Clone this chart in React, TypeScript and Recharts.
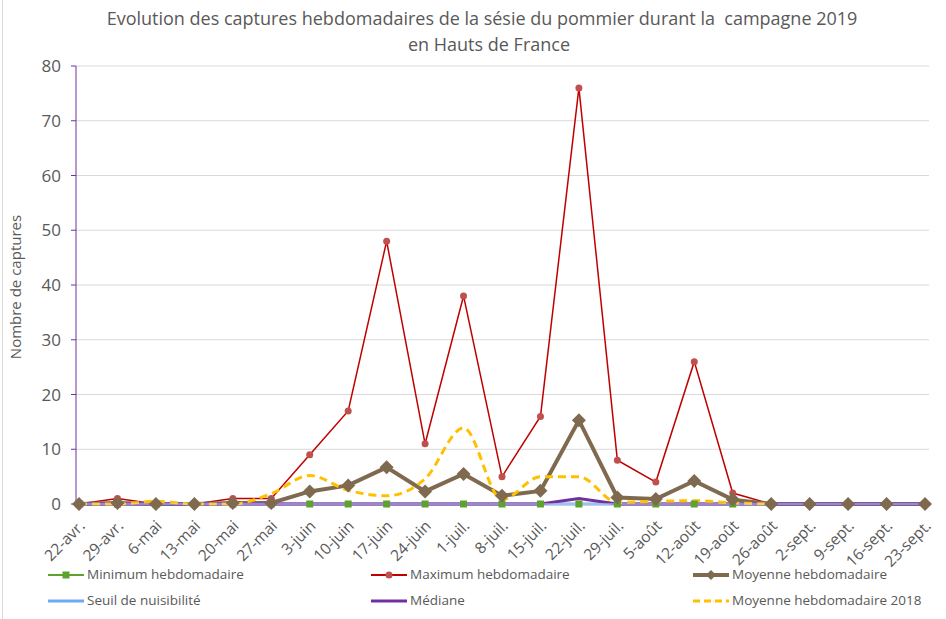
import React from 'react';
import { LineChart, Line, XAxis, YAxis, CartesianGrid } from 'recharts';

const categories = [
  '22-avr.', '29-avr.', '6-mai', '13-mai', '20-mai', '27-mai', '3-juin', '10-juin',
  '17-juin', '24-juin', '1-juil.', '8-juil.', '15-juil.', '22-juil.', '29-juil.',
  '5-août', '12-août', '19-août', '26-août', '2-sept.', '9-sept.', '16-sept.', '23-sept.',
];

const minimum = [0, 0, 0, 0, 0, 0, 0, 0, 0, 0, 0, 0, 0, 0, 0, 0, 0, 0, null, null, null, null, null];
const maximum = [0, 1, 0, 0, 1, 1, 9, 17, 48, 11, 38, 5, 16, 76, 8, 4, 26, 2, 0, null, null, null, null];
const moyenne = [0, 0.2, 0, 0, 0.2, 0.2, 2.3, 3.4, 6.7, 2.3, 5.5, 1.5, 2.4, 15.3, 1.2, 0.9, 4.2, 0.8, 0, 0, 0, 0, 0];
const seuil = [0, 0, 0, 0, 0, 0, 0, 0, 0, 0, 0, 0, 0, 0, 0, 0, 0, 0, 0, 0, 0, 0, 0];
const mediane = [0, 0, 0, 0, 0, 0, 0, 0, 0, 0, 0, 0, 0, 1, 0, 0, 0, 0, 0, 0, 0, 0, 0];
const moyenne2018 = [0, 0, 0.5, 0, 0, 1.9, 5.2, 2.5, 1.5, 4.6, 13.9, 0.8, 5, 5, 0.3, 0.5, 0.6, 0.2, 0, null, null, null, null];

const yTicks = [0, 10, 20, 30, 40, 50, 60, 70, 80];

const data = categories.map((c, i) => ({
  week: c,
  min: minimum[i],
  max: maximum[i],
  moy: moyenne[i],
  seuil: seuil[i],
  med: mediane[i],
  moy18: moyenne2018[i],
}));

const FONT = '"Open Sans", sans-serif';
const TEXT = '#595959';

const GREEN = '#5ea22e';
const RED_LINE = '#c00000';
const RED_DOT = '#c0504d';
const BROWN = '#7f6a4f';
const BLUE = '#6fa8f5';
const PURPLE = '#7030a0';
const YELLOW = '#ffc000';

const Square = (props: any) => {
  const { cx, cy, value } = props;
  if (value == null || cx == null) return null;
  return <rect x={cx - 3.5} y={cy - 3.5} width={7} height={7} fill={GREEN} />;
};

const Diamond = (props: any) => {
  const { cx, cy, value } = props;
  if (value == null || cx == null) return null;
  const r = 7;
  return (
    <path d={`M${cx},${cy - r}L${cx + r},${cy}L${cx},${cy + r}L${cx - r},${cy}Z`} fill={BROWN} />
  );
};

const XTick = (props: any) => {
  const { x, y, payload } = props;
  const tx = x + 4;
  const ty = y + 12;
  return (
    <text
      x={tx}
      y={ty}
      transform={`rotate(-45, ${tx}, ${ty})`}
      textAnchor="end"
      dominantBaseline="middle"
      fontSize={15.5}
      fontFamily={FONT}
      fill={TEXT}
    >
      {payload.value}
    </text>
  );
};

const legendItems = [
  { name: 'Minimum hebdomadaire', kind: 'min', x: 48, y: 575 },
  { name: 'Maximum hebdomadaire', kind: 'max', x: 371, y: 575 },
  { name: 'Moyenne hebdomadaire', kind: 'moy', x: 693, y: 575 },
  { name: 'Seuil de nuisibilité', kind: 'seuil', x: 48, y: 601 },
  { name: 'Médiane', kind: 'med', x: 371, y: 601 },
  { name: 'Moyenne hebdomadaire 2018', kind: 'moy18', x: 693, y: 601 },
];

function LegendMark({ kind, x, y }: { kind: string; x: number; y: number }) {
  const x2 = x + 36;
  const mid = x + 18;
  switch (kind) {
    case 'min':
      return (
        <g>
          <line x1={x} y1={y} x2={x2} y2={y} stroke={GREEN} strokeWidth={2} />
          <rect x={mid - 3.5} y={y - 3.5} width={7} height={7} fill={GREEN} />
        </g>
      );
    case 'max':
      return (
        <g>
          <line x1={x} y1={y} x2={x2} y2={y} stroke={RED_LINE} strokeWidth={2} />
          <circle cx={mid} cy={y} r={3.5} fill={RED_DOT} />
        </g>
      );
    case 'moy':
      return (
        <g>
          <line x1={x} y1={y} x2={x2} y2={y} stroke={BROWN} strokeWidth={4} />
          <path d={`M${mid},${y - 5}L${mid + 5},${y}L${mid},${y + 5}L${mid - 5},${y}Z`} fill={BROWN} />
        </g>
      );
    case 'seuil':
      return <line x1={x} y1={y} x2={x2} y2={y} stroke={BLUE} strokeWidth={3} />;
    case 'med':
      return <line x1={x} y1={y} x2={x2} y2={y} stroke={PURPLE} strokeWidth={3} />;
    default:
      return <line x1={x} y1={y} x2={x2} y2={y} stroke={YELLOW} strokeWidth={3} strokeDasharray="7 4" />;
  }
}

export default function App() {
  return (
    <div style={{ position: 'absolute', left: 0, top: 0, width: 946, height: 619, background: '#fff', fontFamily: FONT }}>
      <div style={{ position: 'absolute', left: 2, top: 0, width: 1, height: 619, background: '#d9d9d9' }} />
      <div
        style={{
          position: 'absolute', left: 482, top: 5, transform: 'translateX(-50%)',
          whiteSpace: 'pre', fontSize: 18, color: TEXT, lineHeight: '26px',
        }}
      >
        {'Evolution des captures hebdomadaires de la sésie du pommier durant la  campagne 2019'}
      </div>
      <div
        style={{
          position: 'absolute', left: 489, top: 31, transform: 'translateX(-50%)',
          whiteSpace: 'pre', fontSize: 18, color: TEXT, lineHeight: '26px',
        }}
      >
        en Hauts de France
      </div>

      <LineChart
        width={946}
        height={619}
        data={data}
        margin={{ top: 66, right: 17, bottom: 65, left: 0 }}
        style={{ position: 'absolute', left: 0, top: 0 }}
      >
        <CartesianGrid vertical={false} stroke="#d9d9d9" strokeWidth={1} />
        <XAxis
          dataKey="week"
          interval={0}
          height={50}
          padding={{ left: 3, right: 4 }}
          axisLine={{ stroke: '#d9d9d9' }}
          tickLine={false}
          tick={<XTick />}
        />
        <YAxis
          width={76}
          domain={[0, 80]}
          ticks={yTicks}
          axisLine={{ stroke: PURPLE, strokeWidth: 1 }}
          tickLine={{ stroke: PURPLE }}
          tickSize={5}
          tickMargin={10}
          tick={{ fontSize: 17, fontFamily: FONT, fill: TEXT }}
          label={{
            content: () => (
              <text
                transform="translate(17, 287) rotate(-90)"
                textAnchor="middle"
                dominantBaseline="middle"
                fontSize={15}
                fontFamily={FONT}
                fill={TEXT}
              >
                Nombre de captures
              </text>
            ),
          }}
        />
        <Line
          dataKey="min"
          name="Minimum hebdomadaire"
          type="linear"
          stroke={GREEN}
          strokeWidth={2}
          dot={<Square />}
          activeDot={false}
          isAnimationActive={false}
        />
        <Line
          dataKey="max"
          name="Maximum hebdomadaire"
          type="linear"
          stroke={RED_LINE}
          strokeWidth={1.5}
          dot={{ r: 3.5, fill: RED_DOT, stroke: RED_DOT, strokeWidth: 0 }}
          activeDot={false}
          isAnimationActive={false}
        />
        <Line
          dataKey="moy"
          name="Moyenne hebdomadaire"
          type="linear"
          stroke={BROWN}
          strokeWidth={4}
          dot={<Diamond />}
          activeDot={false}
          isAnimationActive={false}
        />
        <Line
          dataKey="seuil"
          name="Seuil de nuisibilité"
          type="linear"
          stroke={BLUE}
          strokeWidth={3}
          dot={false}
          activeDot={false}
          isAnimationActive={false}
        />
        <Line
          dataKey="med"
          name="Médiane"
          type="linear"
          stroke={PURPLE}
          strokeWidth={3}
          dot={false}
          activeDot={false}
          isAnimationActive={false}
        />
        <Line
          dataKey="moy18"
          name="Moyenne hebdomadaire 2018"
          type="monotone"
          stroke={YELLOW}
          strokeWidth={3}
          strokeDasharray="8 5"
          dot={false}
          activeDot={false}
          isAnimationActive={false}
        />
      </LineChart>

      <svg width={946} height={619} style={{ position: 'absolute', left: 0, top: 0, pointerEvents: 'none' }}>
        {legendItems.map((it) => (
          <g key={it.name}>
            <LegendMark kind={it.kind} x={it.x} y={it.y} />
            <text
              x={it.x + 39}
              y={it.y}
              dominantBaseline="middle"
              fontSize={13.5}
              fontFamily={FONT}
              fill={TEXT}
            >
              {it.name}
            </text>
          </g>
        ))}
      </svg>
    </div>
  );
}
